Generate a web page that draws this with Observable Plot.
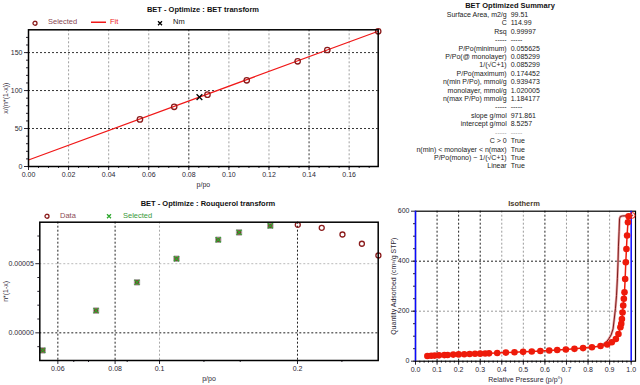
<!DOCTYPE html>
<html><head><meta charset="utf-8">
<script src="https://cdn.jsdelivr.net/npm/d3@7"></script>
<script src="https://cdn.jsdelivr.net/npm/@observablehq/plot@0.6"></script>
<style>
body{margin:0;background:#fff;font-family:"Liberation Sans",Arial,sans-serif;}
#root{position:relative;width:640px;height:385px;overflow:hidden;background:#fff;}
.abs{position:absolute;white-space:nowrap;line-height:1;}
.title{font-weight:bold;font-size:7.5px;color:#111;transform:translate(-50%,-50%);}
.leg{font-size:7.5px;transform:translateY(-50%);}
.chart{position:absolute;}
#sum{position:absolute;top:11px;font-size:7px;line-height:8.4px;color:#222;}
</style></head><body><div id="root"></div>
<script>
// ---------- BET transform ----------
const betX = [0.0556, 0.0727, 0.0893, 0.1089, 0.1343, 0.1491, 0.1745];
const betY = [62.0, 78.6, 94.6, 113.5, 138.5, 153.4, 178.0];
const nmX = [0.0853];
const nmY = [91.4];
const fitX = [0, 0.1745];
const fitY = [8.53, 178.1];
const betTicksX = [0, 0.02, 0.04, 0.06, 0.08, 0.10, 0.12, 0.14, 0.16];
const betTicksY = [0, 50, 100, 150];
const betGridGrey = [0.02, 0.04, 0.06, 0.10, 0.12, 0.16];
const betGridDark = [0.08, 0.14];

// ---------- Rouquerol transform ----------
const rouqX = [0.0556, 0.0727, 0.0893, 0.1089, 0.1343, 0.1491, 0.1745, 0.2003, 0.2259, 0.2507, 0.2764, 0.3003];
const rouqY = [-1.27e-5, 1.61e-5, 3.65e-5, 5.36e-5, 6.73e-5, 7.26e-5, 7.74e-5, 7.81e-5, 7.59e-5, 7.11e-5, 6.44e-5, 5.60e-5];
const rouqSelected = [true, true, true, true, true, true, true, false, false, false, false, false];
const rouqTicksX = [0.06, 0.08, 0.1, 0.2];
const rouqTickLabelsX = ["0.06", "0.08", "0.1", "0.2"];
const rouqMinorX = [0.065, 0.07, 0.085, 0.125, 0.15, 0.25];
const rouqTicksY = [0, 0.00005];
const rouqTickLabelsY = ["0.00000", "0.00005"];
const rouqMinorY = [-0.00001, 0.00001, 0.00002, 0.00003, 0.00004, 0.00006, 0.00007];
const rouqGridDark = [0.06, 0.08, 0.2];
const rouqGridGrey = [0.1];

// ---------- Isotherm ----------
const adsP = [0.055,0.073,0.089,0.109,0.134,0.149,0.175,0.200,0.226,0.251,0.276,0.300,0.323,0.341,0.379,0.419,0.459,0.499,0.539,0.579,0.620,0.657,0.697,0.737,0.777,0.818,0.858,0.889,0.910,0.929,0.941,0.950,0.954,0.957,0.960,0.963,0.966,0.969,0.972,0.975,0.978,0.981,0.985,0.988];
const adsV = [21.0,21.8,22.5,23.4,24.5,25.1,26.5,27.3,28.0,28.8,29.6,30.3,31.0,31.5,33.0,34.5,36.0,37.5,39.0,41.0,43.0,45.0,47.0,49.5,52.5,56.0,61.0,67.0,76.0,89.0,109,136,150,169,195,223,250,276,329,396,449,503,556,580];
const desP = [1.005,0.985,0.960,0.950,0.946,0.944,0.941,0.939,0.936,0.932,0.927,0.921,0.916,0.907,0.896,0.885,0.873,0.862];
const desV = [583,582,581,579,570,520,460,396,330,263,210,165,129,105,89,77,69,63];
const desStartP = [1.005];
const desStartV = [583];
const isoTicksX = [0,0.1,0.2,0.3,0.4,0.5,0.6,0.7,0.8,0.9,1.0];
const isoTicksY = [0,200,400,600];
const isoGridDarkX = [0.1,0.2,0.3,0.6,0.8];
const isoGridGreyX = [0.4,0.5,0.7,0.9];
const isoGridDarkY = [400];
const isoGridGreyY = [200];
const isoBlueX = [0, 1.0];

// ---------- Summary ----------
const sumLabels = ["Surface Area, m2/g","C","Rsq","-----","P/Po(minimum)","P/Po(@ monolayer)","1/(\u221AC+1)","P/Po(maximum)","n(min P/Po), mmol/g","monolayer, mmol/g","n(max P/Po) mmol/g","-----","slope g/mol","intercept g/mol","-----","C > 0","n(min) < monolayer < n(max)","P/Po(mono) ~ 1/(\u221AC+1)","Linear"];
const sumValues = ["99.51","114.99","0.99997","-----","0.055625","0.085299","0.085299","0.174452","0.939473","1.020005","1.184177","-----","971.861","8.5257","-----","True","True","True","True"];

const root = document.getElementById("root");
const FONT = '"Liberation Sans", Arial, sans-serif';
const style = {fontFamily: FONT, fontSize: "7px", color: "#2b2633", background: "transparent", overflow: "visible"};
const blank = () => "";
const zip = (xs, ys, extra) => xs.map((x, i) => Object.assign({x, y: ys[i]}, extra ? extra(i) : {}));

function place(el, left, top) {
  el.classList.add("chart");
  el.style.left = left + "px";
  el.style.top = top + "px";
  root.appendChild(el);
}
function html(text, cls, left, top, color) {
  const d = document.createElement("div");
  d.className = "abs " + cls;
  d.style.left = left + "px";
  d.style.top = top + "px";
  if (color) d.style.color = color;
  d.innerHTML = text;
  root.appendChild(d);
  return d;
}

// Chart 1: BET transform
const c1 = Plot.plot({
  width: 390, height: 190,
  marginLeft: 28, marginRight: 12.3, marginTop: 29.3, marginBottom: 24,
  style,
  x: {domain: [0, 0.1745], axis: null},
  y: {domain: [0, 180], axis: null},
  marks: [
    Plot.ruleX(betGridGrey, {stroke: "#a0a0a0", strokeDasharray: "2,2"}),
    Plot.ruleX(betGridDark, {stroke: "#333", strokeDasharray: "2,2"}),
    Plot.ruleY(betTicksY.slice(1), {stroke: "#333", strokeDasharray: "2,2"}),
    Plot.axisX({ticks: d3.range(0, 0.175, 0.005), tickSize: 2, tickFormat: blank, label: null}),
    Plot.axisX({ticks: betTicksX, tickSize: 4, tickPadding: 2, tickFormat: d3.format(".2f"), label: "p/po", labelAnchor: "center", labelArrow: "none", labelOffset: 20}),
    Plot.axisY({ticks: d3.range(0, 180, 10), tickSize: 2, tickFormat: blank, label: null}),
    Plot.axisY({ticks: betTicksY, tickSize: 4, tickPadding: 2, label: "x/(n*(1-x))", labelAnchor: "center", labelArrow: "none", labelOffset: 25.5}),
    Plot.line(zip(fitX, fitY), {x: "x", y: "y", stroke: "#f01818", strokeWidth: 1.2}),
    Plot.dot(zip(betX, betY), {x: "x", y: "y", r: 2.7, stroke: "#8b1c1c", strokeWidth: 1.3, fill: "none"}),
    Plot.dot(zip(nmX, nmY), {x: "x", y: "y", symbol: "times", r: 2.7, stroke: "#000", strokeWidth: 1.3}),
    Plot.frame({stroke: "#000", strokeWidth: 1.5})
  ]
});
place(c1, 0, 0);

// Chart 2: Rouquerol transform
const rouq = zip(rouqX, rouqY, i => ({sel: rouqSelected[i]}));
const c2 = Plot.plot({
  width: 390, height: 190,
  marginLeft: 39.3, marginRight: 12.3, marginTop: 26.7, marginBottom: 25,
  style,
  x: {type: "log", domain: [0.0548, 0.30], axis: null},
  y: {domain: [-0.00002, 0.00008], axis: null},
  marks: [
    Plot.ruleX(rouqGridGrey, {stroke: "#a8a8a8", strokeDasharray: "2,2"}),
    Plot.ruleX(rouqGridDark, {stroke: "#222", strokeDasharray: "2,2"}),
    Plot.ruleY([rouqTicksY[1]], {stroke: "#bbbbbb", strokeDasharray: "2,2"}),
    Plot.ruleY([rouqTicksY[0]], {stroke: "#222", strokeDasharray: "2,2"}),
    Plot.axisX({ticks: rouqMinorX, tickSize: 2, tickFormat: blank, label: null}),
    Plot.axisX({ticks: rouqTicksX, tickSize: 4, tickPadding: 2, tickFormat: d => rouqTickLabelsX[rouqTicksX.indexOf(d)], label: "p/po", labelAnchor: "center", labelArrow: "none", labelOffset: 20}),
    Plot.axisY({ticks: rouqMinorY, tickSize: 2, tickFormat: blank, label: null}),
    Plot.axisY({ticks: rouqTicksY, tickSize: 4, tickPadding: 2, tickFormat: d => rouqTickLabelsY[rouqTicksY.indexOf(d)], label: "n*(1-x)", labelAnchor: "center", labelArrow: "none", labelOffset: 36.5}),
    Plot.dot(rouq.filter(d => !d.sel), {x: "x", y: "y", r: 2.5, stroke: "#8b1c1c", strokeWidth: 1.3, fill: "none"}),
    Plot.dot(rouq.filter(d => d.sel), {x: "x", y: "y", symbol: "square", r: 3, fill: "#8b2a2a", stroke: "#a6a6a6", strokeWidth: 1}),
    Plot.dot(rouq.filter(d => d.sel), {x: "x", y: "y", symbol: "times", r: 2.4, stroke: "#2ea82e", strokeWidth: 1.2}),
    Plot.frame({stroke: "#000", strokeWidth: 1.5})
  ]
});
place(c2, 0, 195);

// Chart 3: Isotherm
const c3 = Plot.plot({
  width: 250, height: 190,
  marginLeft: 25, marginRight: 5, marginTop: 15.7, marginBottom: 24.3,
  style,
  x: {domain: [0, 1.02], axis: null},
  y: {domain: [0, 600], axis: null},
  marks: [
    Plot.ruleX(isoGridGreyX, {stroke: "#9a9a9a", strokeDasharray: "2,2"}),
    Plot.ruleX(isoGridDarkX, {stroke: "#222", strokeDasharray: "2,2"}),
    Plot.ruleY(isoGridGreyY, {stroke: "#9a9a9a", strokeDasharray: "2,2"}),
    Plot.ruleY(isoGridDarkY, {stroke: "#222", strokeDasharray: "2,2"}),
    Plot.axisX({ticks: d3.range(0, 1.01, 0.02), tickSize: 2, tickFormat: blank, label: null}),
    Plot.axisX({ticks: isoTicksX, tickSize: 4, tickPadding: 2, tickFormat: d3.format(".1f"), label: "Relative Pressure (p/p\u00B0)", labelAnchor: "center", labelArrow: "none", labelOffset: 20.5}),
    Plot.axisY({ticks: d3.range(0, 600, 50), tickSize: 2, tickFormat: blank, label: null}),
    Plot.axisY({ticks: isoTicksY, tickSize: 4, tickPadding: 2, label: "Quantity Adsorbed (cm\u00B3/g STP)", labelAnchor: "center", labelArrow: "none", labelOffset: 24.5}),
    Plot.frame({stroke: "#000", strokeWidth: 1.2}),
    Plot.ruleX(isoBlueX, {stroke: "#0a0aff", strokeWidth: 1.5}),
    Plot.line(zip(desP, desV), {x: "x", y: "y", stroke: "#e9a0a0", strokeWidth: 2.5}),
    Plot.line(zip(desP, desV), {x: "x", y: "y", stroke: "#7a1a1a", strokeWidth: 1}),
    Plot.line(zip(adsP, adsV), {x: "x", y: "y", stroke: "#ee1a0a", strokeWidth: 1.5}),
    Plot.dot(zip(adsP, adsV), {x: "x", y: "y", r: 3.3, fill: "#ee1a0a"}),
    Plot.dot(zip(desStartP, desStartV), {x: "x", y: "y", r: 2.8, stroke: "#ee1a0a", strokeWidth: 1, fill: "none"})
  ]
});
place(c3, 390, 195);

// Titles
html("BET - Optimize : BET transform", "title", 203, 10);
html("BET - Optimize : Rouquerol transform", "title", 208, 204);
html("Isotherm", "title", 524, 204, "#4a3a2a");
html("BET Optimized Summary", "title", 510, 5.5);

// Legends
const circ = c => `<svg width="6" height="6" style="vertical-align:middle"><circle cx="3" cy="3" r="2" fill="none" stroke="${c}" stroke-width="1.3"/></svg>`;
const cross = c => `<svg width="6" height="6" style="vertical-align:middle"><path d="M1,1L5,5M5,1L1,5" stroke="${c}" stroke-width="1.3"/></svg>`;
html(circ("#8b1c1c"), "leg", 32, 22.5);
html("Selected", "leg", 48, 22, "#8b4a55");
html(`<svg width="15" height="4"><line x1="0" y1="2" x2="15" y2="2" stroke="#f01818" stroke-width="1.3"/></svg>`, "leg", 90.5, 22.3);
html("Fit", "leg", 110, 22, "#f01818");
html(cross("#000"), "leg", 157, 22.5);
html("Nm", "leg", 173, 22, "#111");
html(circ("#8b1c1c"), "leg", 44, 216.2);
html("Data", "leg", 60, 215.7, "#8b4a55");
html(cross("#2ea82e"), "leg", 106, 216.2);
html("Selected", "leg", 123, 215.7, "#3a9a3a");

// Summary
const sum = document.createElement("div");
sum.id = "sum";
sum.style.left = "300px";
sum.style.width = "300px";
const labCol = sumLabels.map((t, i) => `<div style="${t === '-----' && i === 14 ? 'color:#aaa' : ''}">${t}</div>`).join("");
const valCol = sumValues.map((t, i) => `<div style="${t === '-----' && i === 14 ? 'color:#aaa' : ''}">${t}</div>`).join("");
sum.innerHTML = `<div style="position:absolute;right:${300 - 206.7}px;text-align:right;white-space:nowrap">${labCol}</div><div style="position:absolute;left:210.7px;white-space:nowrap">${valCol}</div>`;
root.appendChild(sum);
</script>
</body></html>
